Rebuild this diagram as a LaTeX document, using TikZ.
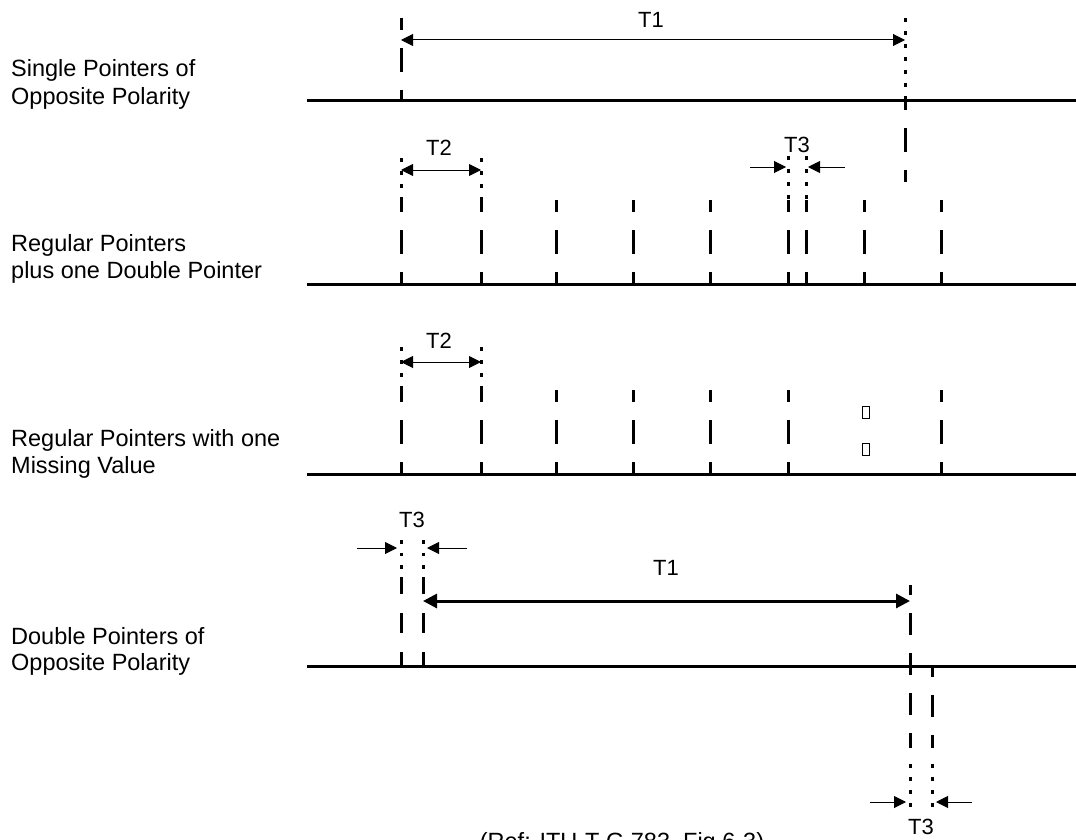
\documentclass[tikz,border=0pt]{standalone}
\usepackage{fontspec}
\setmainfont{Liberation Sans}
\usetikzlibrary{arrows.meta}
\begin{document}
\begin{tikzpicture}[x=1pt,y=-1pt,
  axis/.style={line width=3pt},
  pdash/.style={line width=3pt, dash pattern=on 24pt off 18pt, dash phase=12pt},
  pdot/.style={line width=3pt, dash pattern=on 4pt off 9pt},
  dimline/.style={line width=1pt, {Triangle[length=12pt,width=12pt]}-{Triangle[length=12pt,width=12pt]}},
  dimthick/.style={line width=3pt, {Triangle[length=14pt,width=14pt]}-{Triangle[length=14pt,width=14pt]}},
  inarrow/.style={line width=1pt, -{Triangle[length=12pt,width=12pt]}},
  txt/.style={font=\fontsize{23.5}{27}\selectfont, inner sep=0pt},
  tlab/.style={font=\fontsize{22}{26}\selectfont, inner sep=0pt, anchor=base},
  lbl/.style={txt, anchor=base west},
  tofu/.style={line width=0.8pt}]
\useasboundingbox (0,0) rectangle (1076,840);

% ---------- labels ----------
\node[lbl] (l1a) at (11,77) {Single Pointers of};
\node[lbl] (l1b) at (11,105) {Opposite Polarity};
\node[lbl] (l2a) at (11,251) {Regular Pointers};
\node[lbl] (l2b) at (11,278) {plus one Double Pointer};
\node[lbl] (l3a) at (11,446) {Regular Pointers with one};
\node[lbl] (l3b) at (11,473) {Missing Value};
\node[lbl] (l4a) at (11,644) {Double Pointers of};
\node[lbl] (l4b) at (11,670) {Opposite Polarity};

% ---------- row 1 ----------
\coordinate (r1s) at (307,101);
\coordinate (r1e) at (1076,101);
\draw[axis] (r1s) -- (r1e);
\coordinate (p1top) at (401,18);
\coordinate (p1bot) at (401,101);
\draw[pdash] (p1top) -- (p1bot);
\coordinate (q1top) at (905,18);
\coordinate (q1mid) at (905,96);
\coordinate (q1bot) at (905,182);
\draw[pdot] (q1top) -- (q1mid);
\draw[pdash, dash phase=10pt] (q1mid) -- (q1bot);
\coordinate (t1a) at (401,40);
\coordinate (t1b) at (905,40);
\draw[dimline] (t1a) -- (t1b);
\node[tlab] (T1a) at (651,28) {T1};

% ---------- row 2 ----------
\coordinate (r2s) at (307,284);
\coordinate (r2e) at (1076,284);
\draw[axis] (r2s) -- (r2e);
\foreach \x [count=\i] in {401,481,556,633,710,788,806,864,941}{
  \coordinate (a\i top) at (\x,200);
  \coordinate (a\i bot) at (\x,284);
  \draw[pdash] (a\i top) -- (a\i bot);
}
\foreach \x/\t in {401/158,481/158,788/156,806/156}{
  \coordinate (ad\x) at (\x,\t);
  \draw[pdot] (ad\x) -- (\x,200);
}
\coordinate (t2a) at (401,170);
\coordinate (t2b) at (481,170);
\draw[dimline] (t2a) -- (t2b);
\node[tlab] (T2a) at (439,155) {T2};
\coordinate (t3la) at (750,167);
\coordinate (t3lb) at (786,167);
\coordinate (t3ra) at (845,167);
\coordinate (t3rb) at (808,167);
\draw[inarrow] (t3la) -- (t3lb);
\draw[inarrow] (t3ra) -- (t3rb);
\node[tlab] (T3a) at (797,153) {T3};

% ---------- row 3 ----------
\coordinate (r3s) at (307,474);
\coordinate (r3e) at (1076,474);
\draw[axis] (r3s) -- (r3e);
\foreach \x [count=\i] in {401,481,556,633,710,788,941}{
  \coordinate (b\i top) at (\x,390);
  \coordinate (b\i bot) at (\x,474);
  \draw[pdash] (b\i top) -- (b\i bot);
}
\foreach \x in {401,481}{
  \coordinate (bd\x) at (\x,347);
  \draw[pdot] (bd\x) -- (\x,390);
}
\coordinate (t2c) at (401,362);
\coordinate (t2d) at (481,362);
\draw[dimline] (t2c) -- (t2d);
\node[tlab] (T2b) at (439,348) {T2};
\draw[tofu] (862,406) rectangle (869,418);
\draw[tofu] (862,443) rectangle (869,455);

% ---------- row 4 ----------
\coordinate (r4s) at (307,666);
\coordinate (r4e) at (1076,666);
\draw[axis] (r4s) -- (r4e);
\foreach \x in {401,423}{
  \coordinate (c\x dt) at (\x,540);
  \coordinate (c\x dm) at (\x,577);
  \coordinate (c\x bot) at (\x,666);
  \draw[pdot, dash pattern=on 3.5pt off 9pt] (c\x dt) -- (\x,570);
  \draw[pdash, dash pattern=on 20pt off 19pt, dash phase=3pt] (c\x dm) -- (c\x bot);
}
\coordinate (t3c) at (357,548);
\coordinate (t3d) at (397,548);
\coordinate (t3e) at (467,548);
\coordinate (t3f) at (427,548);
\draw[inarrow] (t3c) -- (t3d);
\draw[inarrow] (t3e) -- (t3f);
\node[tlab] (T3b) at (412,527) {T3};
\coordinate (t1c) at (423,601);
\coordinate (t1d) at (910,601);
\draw[dimthick] (t1c) -- (t1d);
\node[tlab] (T1b) at (666,575) {T1};
\coordinate (d1top) at (910,585);
\coordinate (d1mid) at (910,748);
\coordinate (d1dot) at (910,764);
\coordinate (d1bot) at (910,808);
\draw[pdash, dash pattern=on 22pt off 18pt, dash phase=12pt] (d1top) -- (d1mid);
\draw[pdot] (d1dot) -- (d1bot);
\coordinate (d2top) at (932,666);
\coordinate (d2mid) at (932,748);
\coordinate (d2dot) at (932,764);
\coordinate (d2bot) at (932,808);
\draw[pdash, dash pattern=on 22pt off 18pt, dash phase=11pt] (d2top) -- (d2mid);
\draw[pdot] (d2dot) -- (d2bot);
\coordinate (t3g) at (870,802);
\coordinate (t3h) at (906,802);
\coordinate (t3i) at (972,802);
\coordinate (t3j) at (936,802);
\draw[inarrow] (t3g) -- (t3h);
\draw[inarrow] (t3i) -- (t3j);
\node[tlab] (T3c) at (921,834) {T3};

% ---------- caption (cut off at the bottom edge, as in the reference) ----------
\node[txt, anchor=north] (cap) at (622,832) {(Ref: ITU-T G.783, Fig 6-3)};
\end{tikzpicture}
\end{document}
